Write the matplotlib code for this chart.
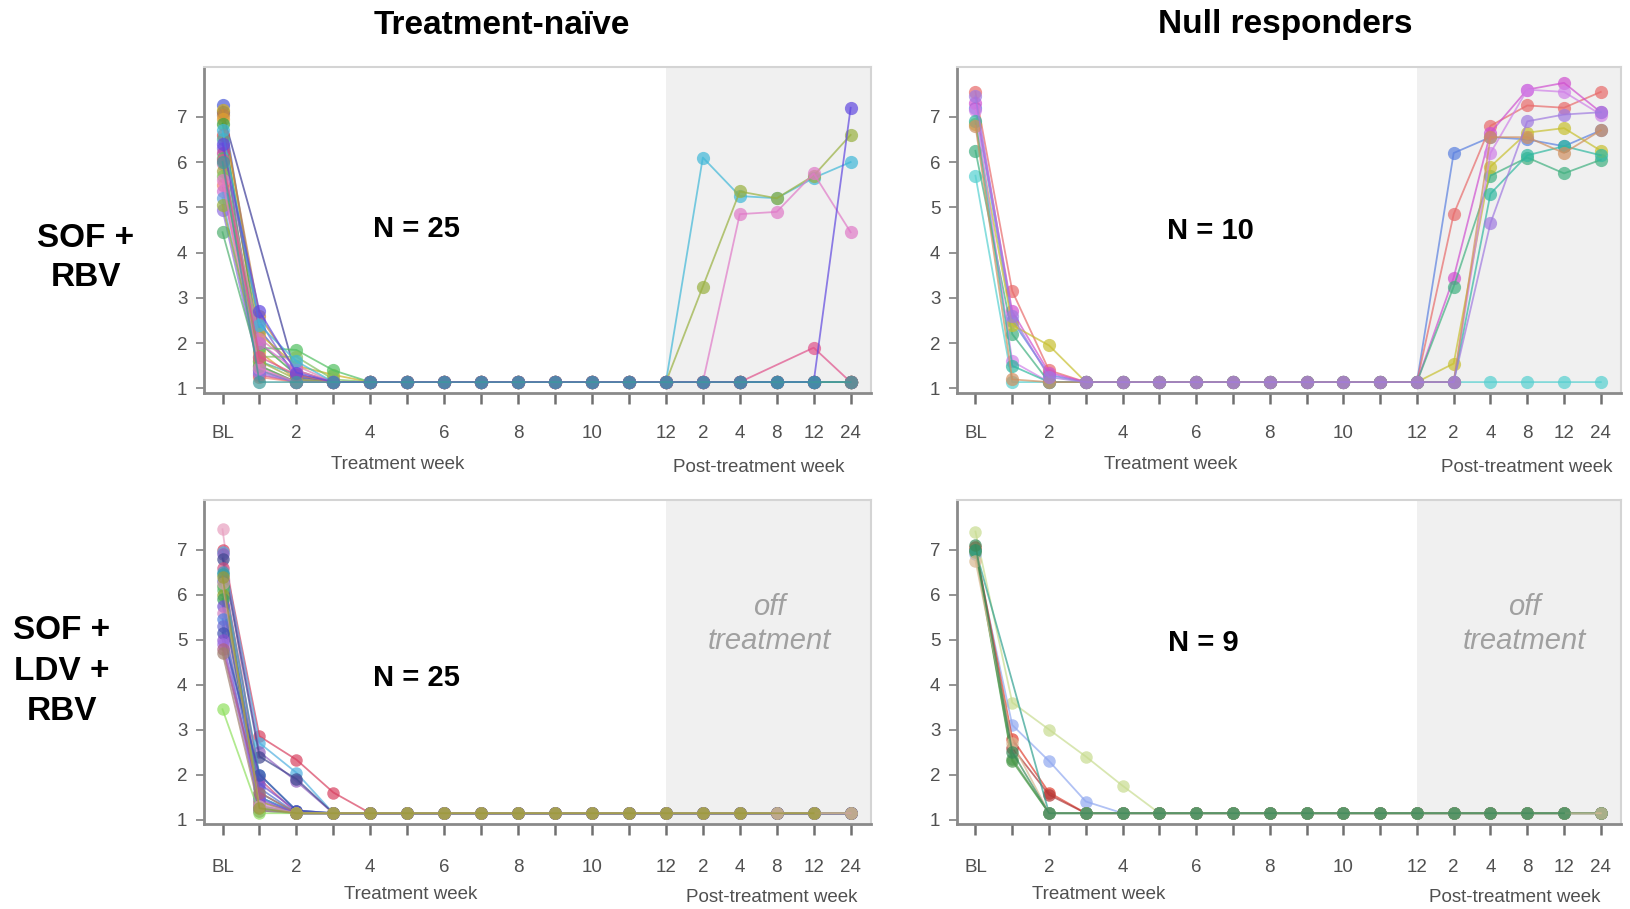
import numpy as np
import matplotlib.pyplot as plt

plt.rcParams['font.family'] = ['Liberation Sans', 'DejaVu Sans']

# visit positions: BL, treatment weeks 1-12, post-treatment weeks 2, 4, 8, 12, 24
visits = np.arange(18)
visit_labels = ['BL', '', '2', '', '4', '', '6', '', '8', '', '10', '', '12',
                '2', '4', '8', '12', '24']

L = 1.14      # below lower limit of quantification
N = np.nan    # missed visit

# SOF + RBV, treatment-naive (log10 HCV RNA)
naive_sof_rbv = [
    [7.25, 2.3, 1.3] + [L] * 15,
    [7.1, N, 1.25] + [L] * 15,
    [7.15, 2.2, 1.5, 1.3] + [L] * 14,
    [7.05, 2.6, 1.4] + [L] * 15,
    [6.95, 1.8, 1.2] + [L] * 15,
    [6.85, 2.0, 1.3] + [L] * 15,
    [6.6, 1.4] + [L] * 16,
    [6.5, 1.6, 1.3] + [L] * 15,
    [6.3, 2.5, 1.2] + [L] * 15,
    [6.2, 1.3] + [L] * 16,
    [6.1, 1.9, 1.85, 1.4] + [L] * 14,
    [5.95, 2.1, 1.5] + [L] * 15,
    [5.8, 1.5] + [L] * 16,
    [5.7, 1.7, 1.7, 1.2] + [L] * 14,
    [5.5, 1.25] + [L] * 16,
    [5.35, 2.0, 1.4] + [L] * 15,
    [5.2, 1.4] + [L] * 16,
    [4.95, 1.35] + [L] * 16,
    [4.45, 1.5] + [L] * 16,
    [6.7, 2.4, 1.6] + [L] * 10 + [6.1, 5.25, 5.2, 5.65, 6.0],
    [5.05, 1.6, 1.2] + [L] * 10 + [3.25, 5.35, 5.2, 5.7, 6.6],
    [5.6, 1.45] + [L] * 12 + [4.85, 4.9, 5.75, 4.45],
    [6.05, 1.7, 1.3] + [L] * 12 + [N, 1.9, L],
    [6.4, 2.7, 1.35] + [L] * 14 + [7.2],
    [6.0, L] + [L] * 16,
]

# SOF + RBV, null responders
null_sof_rbv = [
    [5.7, L] + [L] * 16,
    [7.2, 2.5, 1.3] + [L] * 10 + [6.2, 6.55, 6.5, 6.35, 6.7],
    [7.55, 3.15, 1.4] + [L] * 10 + [4.85, 6.8, 7.25, 7.2, 7.55],
    [7.3, 2.7, 1.35] + [L] * 10 + [3.45, 6.65, 7.6, 7.75, 7.1],
    [6.25, 2.2] + [L] * 11 + [3.25, 5.7, 6.1, 5.75, 6.05],
    [6.85, 2.4, 1.95] + [L] * 10 + [1.55, 5.9, 6.65, 6.75, 6.25],
    [7.15, 1.6] + [L] * 12 + [6.2, 7.6, 7.55, 7.05],
    [6.9, 1.5] + [L] * 12 + [5.3, 6.15, 6.35, 6.15],
    [6.8, 1.2] + [L] * 12 + [6.55, 6.55, 6.2, 6.7],
    [7.45, 2.6, 1.25] + [L] * 11 + [4.65, 6.9, 7.05, 7.1],
]

# SOF + LDV + RBV, treatment-naive
naive_sof_ldv_rbv = [
    [7.45, 1.4] + [L] * 16,
    [7.0, 2.85, 2.33, 1.6] + [L] * 14,
    [6.95, 2.7, 2.04] + [L] * 15,
    [6.9, 2.5, 1.85] + [L] * 15,
    [6.8, 2.4, 1.9] + [L] * 15,
    [6.6, 1.9] + [L] * 16,
    [6.5, 2.0, 1.2] + [L] * 15,
    [6.45, 1.5] + [L] * 16,
    [6.3, 1.7] + [L] * 16,
    [6.2, 1.3] + [L] * 16,
    [6.1, 1.6] + [L] * 16,
    [6.0, 1.4] + [L] * 16,
    [5.9, 1.25] + [L] * 16,
    [5.75, 1.8, 1.2] + [L] * 15,
    [5.6, 1.35] + [L] * 16,
    [5.45, 1.5] + [L] * 16,
    [5.3, 1.2] + [L] * 16,
    [5.15, 2.0, 1.2] + [L] * 15,
    [5.0, 1.45] + [L] * 16,
    [4.9, 1.3] + [L] * 16,
    [4.8, 1.6] + [L] * 16,
    [4.7, 1.2] + [L] * 16,
    [3.45, L] + [L] * 16,
    [6.25, 1.3] + [L] * 16,
    [6.4, 1.25] + [L] * 13 + [N, L, N],
]

# SOF + LDV + RBV, null responders
null_sof_ldv_rbv = [
    [7.4, 3.6, 3.0, 2.4, 1.75] + [L] * 13,
    [6.9, 3.1, 2.3, 1.4] + [L] * 14,
    [7.05, 2.8, 1.6] + [L] * 15,
    [7.0, 2.6, 1.55] + [L] * 15,
    [7.0, 2.35] + [L] * 16,
    [6.95, 2.3] + [L] * 16,
    [7.0, N] + [L] * 16,
    [6.75, 2.7] + [L] * 16,
    [7.1, 2.5] + [L] * 15 + [N],
]

colors_1 = ['#4a5ad8', '#3a3a98', '#d0b020', '#c08040', '#e0a030', '#3aa040',
            '#e04848', '#48a8a0', '#8060d0', '#c04090', '#50c060', '#e080b0',
            '#a0a040', '#80c060', '#f08070', '#d070d0', '#60a0e0', '#9070e0',
            '#50b070', '#40b8d8', '#98b040', '#e07ac8', '#e0508a', '#6048e0',
            '#3d9b9b']
colors_2 = ['#55d0d0', '#5a80e0', '#e86a6a', '#d050d0', '#40b080', '#c8c030',
            '#d080e8', '#30b8a0', '#d09060', '#a07ae0']
colors_3 = ['#e8a0c0', '#d84060', '#50b0e0', '#9060c0', '#404890', '#d05080',
            '#40a0c0', '#30a0a0', '#5070d0', '#40a040', '#60c070', '#90a030',
            '#3aa060', '#7050d0', '#d080c0', '#5080e0', '#6a6ad0', '#4050b0',
            '#8a50d0', '#a070e0', '#b06080', '#a08070', '#90e060', '#d0a0a0',
            '#9a9a38']
colors_4 = ['#c8dc90', '#90a8f0', '#e04030', '#b03838', '#60a060', '#4a9a4a',
            '#30a090', '#d8b890', '#3a8a5a']


def draw_panel(ax, series, colors, n_text, n_xy, tw_x, ptw_x, off=None,
               pad=15, ms=9.5):
    ax.axvspan(12, 17.55, color='#f0f0f0', lw=0, zorder=0)
    for vals, c in zip(series, colors):
        v = np.array(vals, dtype=float)
        ok = ~np.isnan(v)
        ax.plot(visits[ok], v[ok], '-o', color=c, lw=1.3, ms=ms, mew=0,
                alpha=0.7, zorder=2)

    ax.set_xlim(-0.5, 17.55)
    ax.set_ylim(0.9, 8.1)
    ax.set_xticks(visits)
    ax.set_xticklabels(visit_labels)
    ax.set_yticks(range(1, 8))
    ax.tick_params(axis='x', length=8, width=1.8, color='#707070', pad=pad,
                   labelsize=13.5, labelcolor='#505050')
    ax.tick_params(axis='y', length=6, width=1.2, color='#808080', pad=6,
                   labelsize=13.5, labelcolor='#505050')
    for s in ['left', 'bottom']:
        ax.spines[s].set_color('#8a8a8a')
        ax.spines[s].set_linewidth(2)
    for s in ['top', 'right']:
        ax.spines[s].set_color('#d4d4d4')
        ax.spines[s].set_linewidth(1.5)

    ax.text(n_xy[0], n_xy[1], n_text, ha='center', va='center',
            fontsize=21, fontweight='bold')
    trans = ax.get_xaxis_transform()
    ax.text(tw_x, -0.218, 'Treatment week', transform=trans, ha='center',
            va='center', fontsize=13.5, color='#505050')
    ax.text(ptw_x, -0.228, 'Post-treatment week', transform=trans,
            ha='center', va='center', fontsize=13.5, color='#505050')
    if off is not None:
        ax.text(off[0], off[1], 'off\ntreatment', ha='center', va='center',
                fontsize=21, style='italic', color='#a0a0a0', linespacing=1.25)


fig = plt.figure(figsize=(16.31, 9.09), dpi=100)

ax1 = fig.add_axes([0.1251, 0.5677, 0.4089, 0.3586])
ax2 = fig.add_axes([0.5868, 0.5677, 0.4071, 0.3586])
ax3 = fig.add_axes([0.1251, 0.0935, 0.4089, 0.3564])
ax4 = fig.add_axes([0.5868, 0.0935, 0.4071, 0.3564])

draw_panel(ax1, naive_sof_rbv, colors_1, 'N = 25', (5.24, 4.52), 4.75, 14.5)
draw_panel(ax2, null_sof_rbv, colors_2, 'N = 10', (6.39, 4.48), 5.3, 15.0)
draw_panel(ax3, naive_sof_ldv_rbv, colors_3, 'N = 25', (5.24, 4.15), 5.1, 14.86,
           off=(14.8, 5.34), pad=17, ms=9)
draw_panel(ax4, null_sof_ldv_rbv, colors_4, 'N = 9', (6.2, 4.92), 3.35, 14.65,
           off=(14.93, 5.34), pad=17, ms=9)

fig.text(502 / 1631, 1 - 25 / 909, 'Treatment-naïve', ha='center', va='center',
         fontsize=24, fontweight='bold')
fig.text(1285 / 1631, 1 - 25 / 909, 'Null responders', ha='center', va='center',
         fontsize=24, fontweight='bold')
fig.text(86 / 1631, 1 - 258 / 909, 'SOF +\nRBV', ha='center', va='center',
         fontsize=24, fontweight='bold', linespacing=1.3)
fig.text(62 / 1631, 1 - 671 / 909, 'SOF +\nLDV +\nRBV', ha='center', va='center',
         fontsize=24, fontweight='bold', linespacing=1.38)

fig.savefig('out.png', dpi=100)
